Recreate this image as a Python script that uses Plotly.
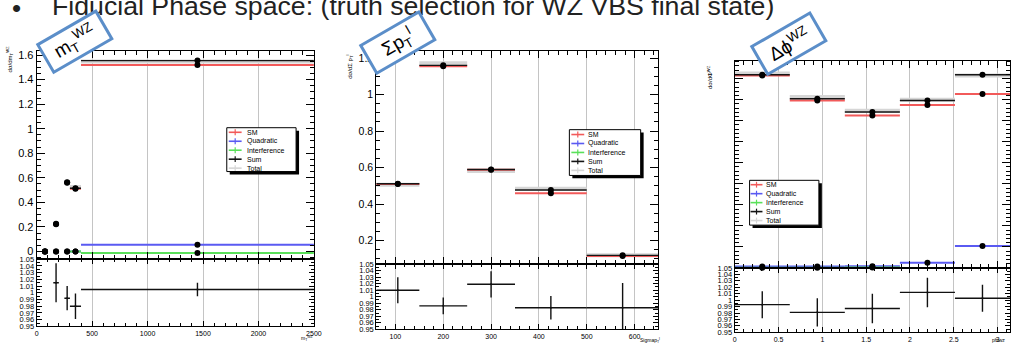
import plotly.graph_objects as go

W, H = 1018, 348
FONT = "Liberation Sans, Arial, sans-serif"

# ---------------- data ----------------
# Panel 1 : m_T^WZ
MT_LO = [50, 150, 250, 300, 400]
MT_HI = [100, 200, 300, 400, 2500]
MT_SM = [0.0, 0.222, 0.560, 0.512, 1.518]
MT_QUAD = [0.0, 0.0, 0.0, 0.0, 0.055]
MT_INT = [0.0, 0.0, 0.0, 0.0, -0.013]
MT_SUM = [0.0, 0.225, 0.563, 0.515, 1.555]
MT_TOTAL = [0.0, 0.222, 0.567, 0.525, 1.548]
MT_RATIO = [None, 1.015, 0.992, 0.980, 1.005]
MT_RATIO_ERR = [None, 0.029, 0.018, 0.019, 0.010]

# Panel 2 : Sigma p_T^l
PT_LO = [60, 150, 250, 350, 500]
PT_HI = [150, 250, 350, 500, 650]
PT_SM = [0.510, 1.155, 0.588, 0.460, 0.117]
PT_QUAD = [0.0, 0.0, 0.0, 0.0, 0.0]
PT_INT = [0.0, 0.0, 0.0, 0.0, 0.0]
PT_SUM = [0.512, 1.160, 0.590, 0.478, 0.120]
PT_TOTAL = [0.507, 1.172, 0.582, 0.484, 0.121]
PT_RATIO = [1.010, 0.986, 1.019, 0.983, 0.983]
PT_RATIO_ERR = [0.020, 0.013, 0.020, 0.018, 0.038]

# Panel 3 : Delta phi^WZ
PHI_LO = [0.0, 0.6283, 1.2566, 1.8850, 2.5133]
PHI_HI = [0.6283, 1.2566, 1.8850, 2.5133, 3.1416]
PHI_SM = [0.915, 0.796, 0.725, 0.775, 0.827]
PHI_QUAD = [0.007, 0.007, 0.008, 0.025, 0.105]
PHI_INT = [0.001, 0.001, 0.002, -0.004, -0.014]
PHI_SUM = [0.918, 0.804, 0.741, 0.796, 0.918]
PHI_TOTAL = [0.924, 0.813, 0.747, 0.800, 0.915]
PHI_RATIO = [0.993, 0.981, 0.987, 1.012, 1.003]
PHI_RATIO_ERR = [0.021, 0.022, 0.023, 0.023, 0.021]

LEGEND_LABELS = ["SM", "Quadratic", "Interference", "Sum", "Total"]
RATIO_TICKS = [0.95, 0.96, 0.97, 0.98, 0.99, 1.0, 1.01, 1.02, 1.03, 1.04, 1.05]
RATIO_TEXT = ["0.95", "0.96", "0.97", "0.98", "0.99", "1", "1.01", "1.02", "1.03", "1.04", "1.05"]

TITLE = "Fiducial Phase space: (truth selection for WZ VBS final state)"

# ---------------- styles ----------------
C_SM = "#f25a5a"
C_QUAD = "#5a5af2"
C_INT = "#5ae05a"
C_SUM = "#151515"
C_TOT = "#d6d6d6"
LEG_COLORS = [C_SM, C_QUAD, C_INT, C_SUM, C_TOT]
BOX_BLUE = "#5b8ec9"


def P(x):
    return x / W


def Q(y):
    return 1 - y / H


fig = go.Figure()


def segs(lo, hi, vals):
    xs, ys = [], []
    for a, b, v in zip(lo, hi, vals):
        if v is None:
            continue
        xs += [a, b, None]
        ys += [v, v, None]
    return xs, ys


def add_panel(lo, hi, sm, quad, intf, tot_sum, total, ratio, rerr, xm, ym, xr, yr, clip):
    centers = [(a + b) / 2 for a, b in zip(lo, hi)]
    for vals, col, w in [(total, C_TOT, 4), (sm, C_SM, 2), (quad, C_QUAD, 2),
                         (intf, C_INT, 2), (tot_sum, C_SUM, 1.4)]:
        xs, ys = segs(lo, hi, vals)
        fig.add_trace(go.Scatter(x=xs, y=ys, mode="lines", line=dict(color=col, width=w),
                                 xaxis=xm, yaxis=ym, showlegend=False, hoverinfo="skip",
                                 cliponaxis=True))
    for vals in [sm, quad, intf, tot_sum]:
        fig.add_trace(go.Scatter(x=centers, y=vals, mode="markers",
                                 marker=dict(color="black", size=6),
                                 xaxis=xm, yaxis=ym, showlegend=False, cliponaxis=clip))
    cx, cy, ep, em, ey = [], [], [], [], []
    for a, b, c, r, e in zip(lo, hi, centers, ratio, rerr):
        if r is None:
            continue
        cx.append(c)
        cy.append(r)
        ep.append(b - c)
        em.append(c - a)
        ey.append(e)
    fig.add_trace(go.Scatter(
        x=cx, y=cy, mode="markers", marker=dict(color="#111", size=2),
        error_x=dict(type="data", symmetric=False, array=ep, arrayminus=em,
                     color="#111", thickness=1.4, width=0),
        error_y=dict(type="data", array=ey, color="#111", thickness=1.4, width=0),
        xaxis=xr, yaxis=yr, showlegend=False))


add_panel(MT_LO, MT_HI, MT_SM, MT_QUAD, MT_INT, MT_SUM, MT_TOTAL, MT_RATIO, MT_RATIO_ERR,
          "x", "y", "x2", "y2", True)
add_panel(PT_LO, PT_HI, PT_SM, PT_QUAD, PT_INT, PT_SUM, PT_TOTAL, PT_RATIO, PT_RATIO_ERR,
          "x3", "y3", "x4", "y4", True)
add_panel(PHI_LO, PHI_HI, PHI_SM, PHI_QUAD, PHI_INT, PHI_SUM, PHI_TOTAL, PHI_RATIO, PHI_RATIO_ERR,
          "x5", "y5", "x6", "y6", False)


def ax(**kw):
    d = dict(showline=True, linecolor="black", linewidth=1, mirror="allticks",
             ticks="inside", tickcolor="black", zeroline=False, showgrid=False,
             tickfont=dict(family=FONT, size=10, color="black"), fixedrange=True)
    d.update(kw)
    return d


GRID = dict(showgrid=True, gridcolor="#c4c4c4", griddash="solid", gridwidth=1)

panels = [
    ("xaxis", "yaxis", "xaxis2", "yaxis2", (35, 315), (48, 262), (262, 331),
     [0, 2500], 500, 100, 0, [-0.063, 1.635], 0.2, 0.05, 11, True),
    ("xaxis3", "yaxis3", "xaxis4", "yaxis4", (378, 663), (48, 267), (267, 334),
     [60, 650], 100, 20, 0, [0.072, 1.24], 0.2, 0.05, 10.5, True),
    ("xaxis5", "yaxis5", "xaxis6", "yaxis6", (740, 1018), (58, 271), (271, 337),
     [0, 3.1416], 0.5, 0.1, 0, [0, 0.986], 0.1, 0.02, 10, False),
]

layout_axes = {}
for i, (xm, ym, xr, yr, xd, md, rd, xrange, xdt, xmin, t0, yrange, ydt, ymin, yfs, ylab) in enumerate(panels):
    n = 2 * i + 1
    xm_id, ym_id, xr_id, yr_id = f"x{n if n > 1 else ''}", f"y{n if n > 1 else ''}", f"x{n+1}", f"y{n+1}"
    xdom = [P(xd[0]), min(1.0, P(xd[1]))]
    layout_axes[xm] = ax(domain=xdom, anchor=ym_id, range=xrange, dtick=xdt, tick0=t0,
                         ticklen=7, showticklabels=False,
                         minor=dict(dtick=xmin, ticklen=4, tickcolor="black", ticks="inside"),
                         **GRID)
    layout_axes[xr] = ax(domain=xdom, anchor=yr_id, range=xrange, dtick=xdt, tick0=t0,
                         ticklen=5, showticklabels=True,
                         tickfont=dict(family=FONT, size=7, color="black"),
                         minor=dict(dtick=xmin, ticklen=3, tickcolor="black", ticks="inside"),
                         **GRID)
    layout_axes[ym] = ax(domain=[Q(md[1]), Q(md[0])], anchor=xm_id, range=yrange, dtick=ydt,
                         tick0=0, ticklen=8, showticklabels=ylab,
                         tickfont=dict(family=FONT, size=yfs, color="black"),
                         minor=dict(dtick=ymin, ticklen=4, tickcolor="black", ticks="inside"))
    layout_axes[yr] = ax(domain=[Q(rd[1]), Q(rd[0])], anchor=xr_id, range=[0.95, 1.05],
                         tickmode="array", tickvals=RATIO_TICKS, ticktext=RATIO_TEXT, ticklen=5,
                         tickfont=dict(family=FONT, size=7.5, color="black"),
                         minor=dict(dtick=0.005, ticklen=3, tickcolor="black", ticks="inside"))

shapes = []
annotations = []


def legend(x0, y0, x1, y1, first, dy, lx0, lx1, tx, fs):
    shapes.append(dict(type="rect", xref="paper", yref="paper", x0=P(x0 + 3), x1=P(x1 + 3),
                       y0=Q(y1 + 3), y1=Q(y0 + 3), fillcolor="black", line=dict(width=0)))
    shapes.append(dict(type="rect", xref="paper", yref="paper", x0=P(x0), x1=P(x1),
                       y0=Q(y1), y1=Q(y0), fillcolor="white", line=dict(color="black", width=1)))
    for k, (lab, col) in enumerate(zip(LEGEND_LABELS, LEG_COLORS)):
        yy = first + k * dy
        shapes.append(dict(type="line", xref="paper", yref="paper", x0=P(lx0), x1=P(lx1),
                           y0=Q(yy), y1=Q(yy), line=dict(color=col, width=1.6)))
        xc = (lx0 + lx1) / 2
        shapes.append(dict(type="line", xref="paper", yref="paper", x0=P(xc), x1=P(xc),
                           y0=Q(yy - 3), y1=Q(yy + 3), line=dict(color=col, width=1.2)))
        annotations.append(dict(xref="paper", yref="paper", x=P(tx), y=Q(yy), text=lab,
                                xanchor="left", yanchor="middle", showarrow=False,
                                font=dict(family=FONT, size=fs, color="black")))


legend(227, 127, 297, 172, 131.7, 9.2, 229, 242, 245, 7)
legend(573, 129, 645, 176, 134, 9.2, 575, 588, 590, 7)
legend(755, 181, 825, 227, 185.5, 9.2, 756, 768, 770, 7)

# axis titles (tiny, ROOT style)
for (x, y, t) in [(8, 56, "dσ/dm<sub>T</sub><sup>WZ</sup>"),
                  (351, 65, "dσ/dΣ p<sub>T</sub><sup>l</sup>"),
                  (715, 75, "dσ/dΦ<sup>WZ</sup>")]:
    annotations.append(dict(xref="paper", yref="paper", x=P(x), y=Q(y), text=t, textangle=-90,
                            showarrow=False, xanchor="center", yanchor="middle",
                            font=dict(family=FONT, size=6, color="black")))
for (x, y, t) in [(309, 343, "m<sub>T</sub><sup>WZ</sup>"),
                  (654, 345, "Sigmap<sub>T</sub><sup>l</sup>"),
                  (1006, 345, "phiwz")]:
    annotations.append(dict(xref="paper", yref="paper", x=P(x), y=Q(y), text=t,
                            showarrow=False, xanchor="center", yanchor="middle",
                            font=dict(family=FONT, size=5, color="black")))

# slide title
annotations.append(dict(xref="paper", yref="paper", x=P(8), y=Q(4), text="•",
                        showarrow=False, xanchor="left", yanchor="middle",
                        font=dict(family=FONT, size=26, color="#222")))
annotations.append(dict(xref="paper", yref="paper", x=P(48), y=Q(2), text=TITLE,
                        showarrow=False, xanchor="left", yanchor="middle",
                        font=dict(family=FONT, size=26.7, color="#222")))

# rotated blue labels
for (x, y, t) in [(74, 39, "m<sub>T</sub><sup>WZ</sup>"),
                  (400, 40, "Σp<sub>T</sub><sup>l</sup>"),
                  (795, 41, "Δϕ<sup>WZ</sup>")]:
    annotations.append(dict(xref="paper", yref="paper", x=P(x), y=Q(y), text=t,
                            textangle=-30, showarrow=False, xanchor="center", yanchor="middle",
                            width=64, height=29, bgcolor="white", bordercolor=BOX_BLUE,
                            borderwidth=3, borderpad=0,
                            font=dict(family=FONT, size=19, color="black")))

fig.update_layout(width=W, height=H, autosize=False, margin=dict(l=0, r=0, t=0, b=0),
                  paper_bgcolor="white", plot_bgcolor="white", showlegend=False,
                  shapes=shapes, annotations=annotations, **layout_axes)

fig.write_html("out.html")
